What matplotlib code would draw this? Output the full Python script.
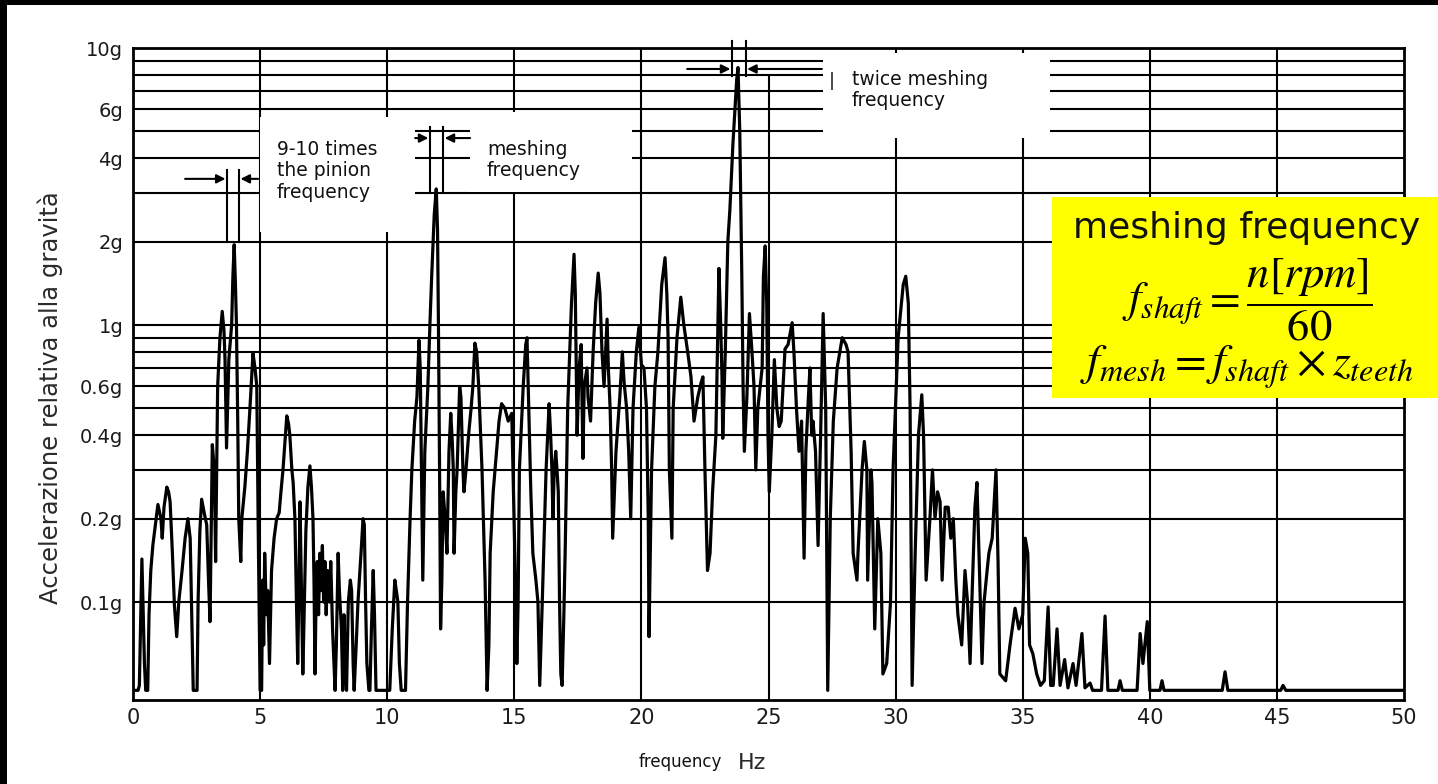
import matplotlib
matplotlib.use("Agg")
import matplotlib.pyplot as plt
from matplotlib.patches import Rectangle
from matplotlib.ticker import NullLocator

# ---------------- data ----------------
freq_hz = [0.00, 0.20, 0.25, 0.35, 0.45, 0.50, 0.58, 0.63, 0.70, 0.78, 0.88, 0.98, 1.05, 1.10, 1.15,
           1.22, 1.33, 1.40, 1.46, 1.55, 1.63, 1.72, 1.80, 1.93, 2.05, 2.16, 2.25, 2.32, 2.37, 2.52,
           2.56, 2.63, 2.70, 2.80, 2.90, 2.97, 3.03, 3.12, 3.20, 3.25, 3.33, 3.42, 3.51, 3.58, 3.62,
           3.68, 3.77, 3.88, 3.93, 3.98, 4.03, 4.07, 4.12, 4.16, 4.24, 4.28, 4.40, 4.50, 4.60, 4.72,
           4.80, 4.87, 4.93, 5.00, 5.06, 5.10, 5.14, 5.18, 5.25, 5.30, 5.37, 5.45, 5.55, 5.65, 5.75,
           5.82, 5.90, 6.05, 6.12, 6.17, 6.25, 6.30, 6.37, 6.43, 6.48, 6.53, 6.57, 6.62, 6.68, 6.72,
           6.80, 6.88, 6.96, 7.02, 7.08, 7.12, 7.16, 7.20, 7.25, 7.30, 7.35, 7.40, 7.45, 7.50, 7.55,
           7.60, 7.65, 7.72, 7.78, 7.85, 7.95, 8.00, 8.07, 8.12, 8.20, 8.25, 8.30, 8.35, 8.40, 8.47,
           8.55, 8.60, 8.66, 8.70, 8.78, 8.85, 8.97, 9.05, 9.10, 9.15, 9.20, 9.28, 9.32, 9.38, 9.45,
           9.50, 9.56, 10.10, 10.20, 10.30, 10.36, 10.42, 10.48, 10.55, 10.72, 10.80, 10.90, 10.97, 11.08, 11.17,
           11.25, 11.30, 11.35, 11.40, 11.48, 11.60, 11.68, 11.75, 11.85, 11.93, 11.98, 12.02, 12.06, 12.10, 12.15,
           12.20, 12.28, 12.35, 12.43, 12.50, 12.56, 12.60, 12.63, 12.70, 12.75, 12.85, 12.90, 12.98, 13.02, 13.10,
           13.20, 13.30, 13.37, 13.45, 13.52, 13.60, 13.73, 13.85, 13.93, 14.00, 14.05, 14.17, 14.30, 14.40, 14.50,
           14.63, 14.76, 14.90, 14.95, 15.02, 15.10, 15.15, 15.20, 15.35, 15.45, 15.50, 15.57, 15.65, 15.73, 15.85,
           15.93, 16.00, 16.10, 16.25, 16.37, 16.43, 16.48, 16.52, 16.57, 16.63, 16.68, 16.73, 16.78, 16.83, 16.88,
           16.95, 17.00, 17.10, 17.25, 17.35, 17.40, 17.43, 17.47, 17.55, 17.63, 17.67, 17.70, 17.75, 17.86, 17.90,
           18.00, 18.10, 18.20, 18.30, 18.37, 18.45, 18.53, 18.65, 18.70, 18.77, 18.83, 18.87, 19.00, 19.15, 19.25,
           19.32, 19.42, 19.50, 19.58, 19.67, 19.80, 19.90, 20.00, 20.10, 20.20, 20.27, 20.30, 20.40, 20.53, 20.65,
           20.80, 20.93, 21.00, 21.05, 21.10, 21.20, 21.25, 21.40, 21.55, 21.67, 21.82, 21.95, 22.07, 22.22, 22.35,
           22.42, 22.50, 22.60, 22.70, 22.80, 22.93, 23.00, 23.05, 23.12, 23.17, 23.20, 23.30, 23.40, 23.48, 23.60,
           23.75, 23.80, 23.87, 23.95, 24.00, 24.05, 24.15, 24.25, 24.35, 24.43, 24.50, 24.58, 24.75, 24.80, 24.87,
           24.93, 24.98, 25.03, 25.13, 25.23, 25.33, 25.42, 25.50, 25.65, 25.77, 25.93, 26.00, 26.10, 26.20, 26.30,
           26.40, 26.47, 26.57, 26.63, 26.70, 26.75, 26.85, 26.95, 27.05, 27.15, 27.25, 27.33, 27.43, 27.55, 27.70,
           27.90, 28.05, 28.13, 28.25, 28.33, 28.48, 28.52, 28.68, 28.77, 28.87, 28.90, 29.03, 29.07, 29.18, 29.30,
           29.42, 29.50, 29.65, 29.80, 29.90, 30.10, 30.30, 30.40, 30.50, 30.57, 30.65, 30.77, 30.90, 31.03, 31.10,
           31.20, 31.35, 31.45, 31.55, 31.65, 31.75, 31.83, 31.95, 32.07, 32.17, 32.27, 32.37, 32.45, 32.60, 32.73,
           32.83, 32.93, 33.00, 33.12, 33.20, 33.28, 33.40, 33.48, 33.60, 33.67, 33.80, 33.95, 34.03, 34.10, 34.33,
           34.50, 34.70, 34.85, 35.00, 35.10, 35.20, 35.27, 35.40, 35.55, 35.70, 35.85, 36.00, 36.10, 36.20, 36.35,
           36.47, 36.65, 36.78, 36.98, 37.10, 37.33, 37.45, 37.65, 37.75, 38.10, 38.24, 38.35, 38.75, 38.83, 38.92,
           39.50, 39.62, 39.73, 39.90, 40.00, 40.40, 40.48, 40.56, 42.85, 42.96, 43.07, 45.15, 45.24, 45.35, 50.00]

accel_g = [0.048, 0.048, 0.05, 0.143, 0.06, 0.048, 0.048, 0.09, 0.13, 0.16, 0.19, 0.225, 0.21, 0.2, 0.17,
           0.22, 0.26, 0.25, 0.23, 0.15, 0.097, 0.075, 0.1, 0.13, 0.17, 0.2, 0.17, 0.08, 0.048, 0.048,
           0.1, 0.18, 0.235, 0.21, 0.19, 0.12, 0.085, 0.37, 0.3, 0.14, 0.6, 0.9, 1.12, 0.95, 0.75,
           0.36, 0.75, 1.0, 1.5, 1.95, 1.4, 1.0, 0.45, 0.2, 0.14, 0.2, 0.26, 0.35, 0.5, 0.79,
           0.7, 0.6, 0.17, 0.048, 0.048, 0.12, 0.07, 0.15, 0.09, 0.11, 0.06, 0.13, 0.17, 0.2, 0.21,
           0.25, 0.3, 0.47, 0.44, 0.4, 0.3, 0.27, 0.2, 0.1, 0.06, 0.12, 0.23, 0.12, 0.055, 0.08,
           0.18, 0.26, 0.31, 0.26, 0.2, 0.12, 0.055, 0.1, 0.14, 0.09, 0.15, 0.11, 0.16, 0.1, 0.14,
           0.09, 0.13, 0.1, 0.14, 0.08, 0.048, 0.07, 0.15, 0.11, 0.08, 0.048, 0.09, 0.06, 0.048, 0.1,
           0.12, 0.11, 0.06, 0.048, 0.07, 0.1, 0.15, 0.2, 0.19, 0.1, 0.06, 0.048, 0.048, 0.08, 0.13,
           0.09, 0.048, 0.048, 0.08, 0.12, 0.11, 0.1, 0.06, 0.048, 0.048, 0.1, 0.2, 0.3, 0.45, 0.55,
           0.88, 0.7, 0.3, 0.12, 0.35, 0.6, 1.0, 1.5, 2.5, 3.1, 2.2, 0.9, 0.3, 0.08, 0.12,
           0.25, 0.2, 0.15, 0.35, 0.48, 0.38, 0.3, 0.15, 0.25, 0.3, 0.6, 0.55, 0.3, 0.25, 0.3,
           0.4, 0.5, 0.6, 0.86, 0.8, 0.6, 0.3, 0.12, 0.048, 0.07, 0.15, 0.25, 0.35, 0.45, 0.52,
           0.5, 0.45, 0.48, 0.3, 0.15, 0.06, 0.1, 0.3, 0.6, 0.85, 0.9, 0.5, 0.25, 0.15, 0.12,
           0.1, 0.05, 0.1, 0.3, 0.52, 0.4, 0.3, 0.2, 0.3, 0.35, 0.3, 0.25, 0.1, 0.055, 0.05,
           0.09, 0.15, 0.5, 1.2, 1.8, 1.3, 0.8, 0.4, 0.7, 0.85, 0.5, 0.33, 0.6, 0.7, 0.55,
           0.45, 0.8, 1.2, 1.54, 1.3, 0.8, 0.6, 1.05, 0.7, 0.5, 0.3, 0.17, 0.35, 0.55, 0.8,
           0.62, 0.5, 0.35, 0.2, 0.5, 0.8, 0.98, 0.72, 0.7, 0.5, 0.2, 0.075, 0.3, 0.6, 0.8,
           1.4, 1.75, 1.3, 0.9, 0.3, 0.17, 0.5, 0.9, 1.26, 1.0, 0.8, 0.65, 0.45, 0.55, 0.62,
           0.65, 0.3, 0.13, 0.15, 0.25, 0.4, 0.9, 1.6, 1.0, 0.65, 0.39, 0.8, 2.0, 2.6, 4.5,
           7.7, 8.5, 5.0, 1.5, 0.6, 0.35, 0.55, 1.1, 0.8, 0.6, 0.3, 0.5, 0.7, 1.5, 1.93,
           1.2, 0.4, 0.25, 0.4, 0.75, 0.5, 0.43, 0.45, 0.82, 0.85, 1.02, 0.8, 0.5, 0.35, 0.45,
           0.144, 0.35, 0.55, 0.7, 0.4, 0.45, 0.35, 0.16, 0.4, 1.1, 0.5, 0.048, 0.2, 0.45, 0.7,
           0.9, 0.85, 0.8, 0.35, 0.15, 0.12, 0.15, 0.3, 0.38, 0.3, 0.12, 0.3, 0.27, 0.08, 0.2,
           0.15, 0.055, 0.06, 0.1, 0.3, 0.9, 1.4, 1.5, 1.2, 0.5, 0.05, 0.15, 0.4, 0.56, 0.4,
           0.12, 0.2, 0.3, 0.2, 0.25, 0.23, 0.12, 0.22, 0.22, 0.17, 0.2, 0.12, 0.09, 0.07, 0.13,
           0.1, 0.06, 0.1, 0.22, 0.27, 0.15, 0.06, 0.1, 0.13, 0.15, 0.17, 0.3, 0.14, 0.055, 0.052,
           0.07, 0.095, 0.08, 0.09, 0.17, 0.15, 0.07, 0.065, 0.055, 0.05, 0.052, 0.096, 0.05, 0.05, 0.08,
           0.05, 0.062, 0.049, 0.06, 0.05, 0.077, 0.049, 0.051, 0.048, 0.048, 0.089, 0.048, 0.048, 0.052, 0.048,
           0.048, 0.077, 0.06, 0.085, 0.048, 0.048, 0.052, 0.048, 0.048, 0.056, 0.048, 0.048, 0.05, 0.048, 0.048]

y_tick_values = [10, 6, 4, 2, 1, 0.6, 0.4, 0.2, 0.1]
y_tick_labels = ["10g", "6g", "4g", "2g", "1g", "0.6g", "0.4g", "0.2g", "0.1g"]
x_tick_values = [0, 5, 10, 15, 20, 25, 30, 35, 40, 45, 50]
x_tick_labels = ["0", "5", "10", "15", "20", "25", "30", "35", "40", "45", "50"]
h_grid_g = [0.1, 0.2, 0.3, 0.4, 0.5, 0.6, 0.7, 0.8, 0.9, 1, 2, 3, 4, 5, 6, 7, 8, 9]
v_grid_hz = [5, 10, 15, 20, 25, 30, 35, 40, 45]
v_grid_top_g = [10, 10, 10, 10, 7.9, 10, 10, 10, 10]

# annotation marks of the original chart (Hz, g)
pinion_marks_hz = [3.70, 4.17]
pinion_marks_g = (2.0, 3.63)
pinion_arrows = [((2.05, 3.37), (3.64, 3.37)), ((4.92, 3.37), (4.23, 3.37))]
mesh_marks_hz = [11.68, 12.20]
mesh_marks_g = (3.0, 5.2)
mesh_arrows = [((11.10, 4.73), (11.62, 4.73)), ((13.26, 4.73), (12.26, 4.73))]
twice_marks_hz = [23.56, 24.10]
twice_marks_g = (7.9, 10.6)
twice_arrows = [((21.8, 8.4), (23.50, 8.4)), ((27.1, 8.4), (24.16, 8.4))]

W, H = 1438, 784
AX_L, AX_R, AX_T, AX_B = 133, 1404, 48, 700


def ax_frac(px, py):
    return (px - AX_L) / (AX_R - AX_L), (AX_B - py) / (AX_B - AX_T)


plt.rcParams["mathtext.fontset"] = "stix"

fig = plt.figure(figsize=(W / 100, H / 100), dpi=100)
fig.patch.set_facecolor("white")
ax = fig.add_axes([AX_L / W, 1 - AX_B / H, (AX_R - AX_L) / W, (AX_B - AX_T) / H])
ax.set_yscale("log")
ax.set_xlim(0, 50)
ax.set_ylim(0.0443, 10)

# grid
for g in h_grid_g:
    ax.axhline(g, color="black", lw=1.5, zorder=1)
for hz, top in zip(v_grid_hz, v_grid_top_g):
    ax.vlines(hz, 0.0443, top, color="black", lw=1.5, zorder=1)

for s in ax.spines.values():
    s.set_linewidth(2.0)
    s.set_zorder(4)

# trace
ax.plot(freq_hz, accel_g, color="black", lw=2.3, zorder=3, solid_joinstyle="round")

# white blanked areas of the original drawing
for (x0, y0, x1, y1) in [(260, 117, 415, 232), (470, 112, 632, 192), (823, 53, 1050, 138)]:
    a0 = ax_frac(x0, y1)
    a1 = ax_frac(x1, y0)
    ax.add_patch(Rectangle(a0, a1[0] - a0[0], a1[1] - a0[1], transform=ax.transAxes,
                           facecolor="white", edgecolor="none", zorder=2.5))

# frequency marks and arrows
for marks, (g0, g1), arrows in [(pinion_marks_hz, pinion_marks_g, pinion_arrows),
                                (mesh_marks_hz, mesh_marks_g, mesh_arrows),
                                (twice_marks_hz, twice_marks_g, twice_arrows)]:
    for hz in marks:
        ax.plot([hz, hz], [g0, g1], color="black", lw=1.5, zorder=4, clip_on=False)
    for tail, tip in arrows:
        ax.annotate("", xy=tip, xytext=tail, annotation_clip=False,
                    arrowprops=dict(arrowstyle="-|>", color="black", lw=1.5,
                                    mutation_scale=13, shrinkA=0, shrinkB=0), zorder=4)

# ticks
ax.set_xticks(x_tick_values, x_tick_labels)
ax.set_yticks(y_tick_values, y_tick_labels)
ax.yaxis.set_minor_locator(NullLocator())
ax.tick_params(axis="both", length=0, colors="#1a1a1a", labelsize=14)
ax.tick_params(axis="x", pad=6, labelsize=15)
ax.tick_params(axis="y", pad=7)

txt_kw = dict(family="DejaVu Sans", color="#111111")
fig.text(50 / W, 1 - 398 / H, "Accelerazione relativa alla gravità", rotation=90,
         ha="center", va="center", fontsize=17.5, color="#2a2a2a")
fig.text(680 / W, 1 - 762 / H, "frequency", ha="center", va="center", fontsize=12, **txt_kw)
fig.text(752 / W, 1 - 763 / H, "Hz", ha="center", va="center", fontsize=16, color="#2a2a2a")

fig.text(277 / W, 1 - 140 / H, "9-10 times\nthe pinion\nfrequency", ha="left", va="top",
         fontsize=13.5, linespacing=1.15, **txt_kw)
fig.text(487 / W, 1 - 140 / H, "meshing\nfrequency", ha="left", va="top",
         fontsize=13.5, linespacing=1.15, **txt_kw)
fig.text(852 / W, 1 - 70 / H, "twice meshing\nfrequency", ha="left", va="top",
         fontsize=13.5, linespacing=1.15, **txt_kw)
fig.text(832 / W, 1 - 81 / H, "|", ha="center", va="center", fontsize=13, **txt_kw)

# yellow formula box
fig.add_artist(Rectangle((1052 / W, 1 - 398 / H), (W - 1052) / W, (398 - 197) / H,
                         transform=fig.transFigure, facecolor="#ffff00", edgecolor="none", zorder=5))
fig.text(1247 / W, 1 - 228 / H, "meshing frequency", ha="center", va="center",
         fontsize=26, zorder=6, **txt_kw)
fig.text(1247 / W, 1 - 300 / H, r"$f_{shaft}=\dfrac{n[rpm]}{60}$", ha="center", va="center",
         fontsize=32, zorder=6, color="black")
fig.text(1247 / W, 1 - 367 / H, r"$f_{mesh}=f_{shaft}\times z_{teeth}$", ha="center", va="center",
         fontsize=33, zorder=6, color="black")

# black scan border
fig.add_artist(Rectangle((0, 1 - 5 / H), 1, 5 / H, transform=fig.transFigure,
                         facecolor="black", edgecolor="none", zorder=7))
fig.add_artist(Rectangle((0, 0), 7 / W, 1, transform=fig.transFigure,
                         facecolor="black", edgecolor="none", zorder=7))

fig.savefig("out.png", dpi=100)
